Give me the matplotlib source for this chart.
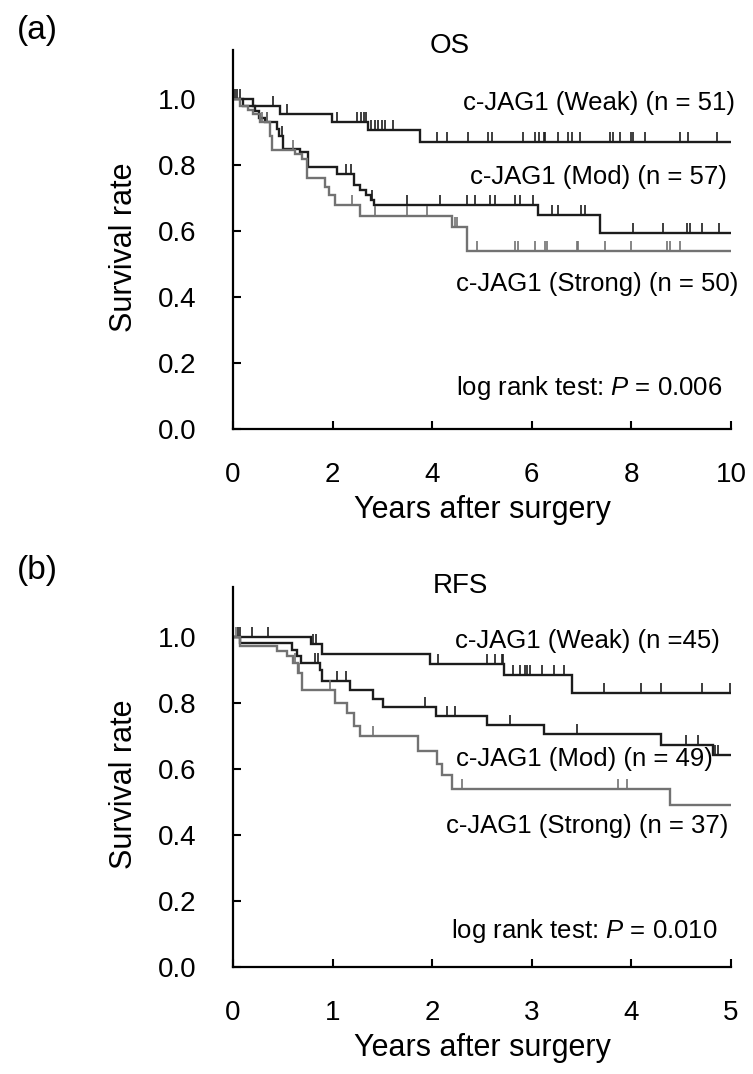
import numpy as np
import matplotlib
matplotlib.use("Agg")
import matplotlib.pyplot as plt

plt.rcParams['font.family'] = ['Liberation Sans', 'DejaVu Sans']
plt.rcParams['mathtext.fontset'] = 'custom'
plt.rcParams['mathtext.it'] = 'Liberation Sans:italic'
plt.rcParams['mathtext.rm'] = 'Liberation Sans'

# ---------------- OS data ----------------
os_weak_t = [0, 0.40, 0.95, 1.98, 2.72, 3.75]
os_weak_s = [1.0, 0.980, 0.957, 0.932, 0.906, 0.871]
os_weak_c = [0.04, 0.09, 0.14, 0.81, 1.08, 2.08, 2.50, 2.57, 2.63, 2.68, 2.78, 2.85,
             2.92, 2.99, 3.05, 3.22, 4.09, 4.29, 4.72, 5.13, 5.20, 5.83, 6.07, 6.14,
             6.24, 6.27, 6.53, 6.73, 6.80, 6.97, 7.57, 7.64, 7.77, 8.00, 8.04, 8.28,
             8.98, 9.14, 9.71]

os_mod_t = [0, 0.20, 0.45, 0.52, 0.65, 0.88, 0.93, 1.01, 1.35, 1.50, 2.08, 2.42,
            2.55, 2.68, 2.78, 2.83, 6.13, 7.37]
os_mod_s = [1.0, 0.980, 0.965, 0.945, 0.930, 0.910, 0.890, 0.850, 0.840, 0.795,
            0.775, 0.739, 0.724, 0.709, 0.694, 0.679, 0.648, 0.594]
os_mod_c = [0.68, 0.98, 2.27, 2.36, 2.80, 3.49, 4.16, 4.69, 4.86, 5.16, 5.26, 5.66,
            5.76, 6.03, 6.40, 6.53, 6.99, 7.06, 8.03, 8.64, 9.11, 9.18, 9.41, 9.75]

os_str_t = [0, 0.15, 0.30, 0.40, 0.55, 0.74, 0.78, 1.25, 1.38, 1.48, 1.85, 1.92,
            2.05, 2.55, 4.39, 4.69]
os_str_s = [1.0, 0.980, 0.967, 0.955, 0.930, 0.890, 0.845, 0.835, 0.820, 0.760,
            0.734, 0.709, 0.680, 0.645, 0.613, 0.540]
os_str_c = [0.58, 0.68, 1.20, 2.38, 2.85, 3.49, 3.89, 4.46, 4.50, 4.89, 5.66, 5.72,
            6.07, 6.27, 6.30, 6.90, 6.93, 7.47, 8.00, 8.71, 8.78, 8.98]

# ---------------- RFS data ----------------
rfs_weak_t = [0, 0.78, 0.89, 1.98, 2.72, 3.40]
rfs_weak_s = [1.0, 0.978, 0.947, 0.918, 0.883, 0.830]
rfs_weak_c = [0.05, 0.07, 0.19, 0.35, 0.80, 0.83, 2.06, 2.55, 2.63, 2.70, 2.71,
              2.81, 2.88, 2.93, 2.95, 2.98, 3.10, 3.22, 3.32, 3.72, 4.10, 4.30,
              4.71, 4.99]

rfs_mod_t = [0, 0.07, 0.59, 0.64, 0.68, 0.87, 0.89, 1.17, 1.41, 1.51, 2.04, 2.55,
             3.12, 4.30, 4.82]
rfs_mod_s = [1.0, 0.980, 0.960, 0.940, 0.920, 0.900, 0.866, 0.837, 0.812, 0.787,
             0.761, 0.731, 0.706, 0.671, 0.641]
rfs_mod_c = [0.82, 0.85, 1.04, 1.13, 1.93, 2.15, 2.23, 2.78, 3.45, 4.55, 4.67,
             4.84, 4.87]

rfs_str_t = [0, 0.07, 0.44, 0.54, 0.60, 0.65, 0.69, 1.02, 1.14, 1.22, 1.28, 1.86,
             2.05, 2.10, 2.20, 4.39]
rfs_str_s = [1.0, 0.973, 0.955, 0.940, 0.920, 0.890, 0.837, 0.800, 0.770, 0.730,
             0.700, 0.655, 0.615, 0.580, 0.540, 0.489]
rfs_str_c = [0.03, 0.62, 0.66, 0.97, 1.41, 2.30, 3.87, 3.96]

os_labels = ["c-JAG1 (Weak) (n = 51)", "c-JAG1 (Mod) (n = 57)", "c-JAG1 (Strong) (n = 50)"]
rfs_labels = ["c-JAG1 (Weak) (n =45)", "c-JAG1 (Mod) (n = 49)", "c-JAG1 (Strong) (n = 37)"]
os_p = "log rank test: $P$ = 0.006"
rfs_p = "log rank test: $P$ = 0.010"

DARK = '#1c1c1c'
GRAY = '#727272'

fig = plt.figure(figsize=(7.53, 10.74), dpi=100)


def km(ax, t, s, c, tend, color):
    tt = list(t) + [tend]
    ss = list(s) + [s[-1]]
    ax.step(tt, ss, where='post', color=color, lw=1.7, solid_joinstyle='miter')
    c = np.asarray(c)
    idx = np.searchsorted(np.asarray(t), c, side='right') - 1
    cy = np.asarray(s)[idx]
    ax.plot(c, cy, linestyle='none', marker=2, markersize=7, mew=1.2, color=color)


def style(ax, xmax, xticks):
    ax.set_xlim(0, xmax)
    ax.set_ylim(0, 1.15)
    ax.spines['top'].set_visible(False)
    ax.spines['right'].set_visible(False)
    ax.spines['left'].set_linewidth(1.6)
    ax.spines['bottom'].set_linewidth(1.6)
    ax.set_yticks([0, 0.2, 0.4, 0.6, 0.8, 1.0])
    ax.set_yticklabels(['0.0', '0.2', '0.4', '0.6', '0.8', '1.0'])
    ax.set_xticks(xticks)
    ax.tick_params(axis='both', direction='in', length=6, width=1.5, labelsize=20)
    ax.tick_params(axis='x', pad=24)
    ax.tick_params(axis='y', pad=26)
    ax.set_xlabel('Years after surgery', fontsize=22, labelpad=5)
    ax.set_ylabel('Survival rate', fontsize=22)
    ax.yaxis.set_label_coords(-0.189, 0.48)


# ---- (a) OS ----
ax1 = fig.add_axes([0.3094, 0.6006, 0.6614, 0.3529])
km(ax1, os_weak_t, os_weak_s, os_weak_c, 10.0, DARK)
km(ax1, os_mod_t, os_mod_s, os_mod_c, 10.0, DARK)
km(ax1, os_str_t, os_str_s, os_str_c, 10.0, GRAY)
style(ax1, 10, [0, 2, 4, 6, 8, 10])
ax1.text(10.08, 0.99, os_labels[0], ha='right', va='center', fontsize=18.5)
ax1.text(9.92, 0.764, os_labels[1], ha='right', va='center', fontsize=18.5)
ax1.text(10.14, 0.44, os_labels[2], ha='right', va='center', fontsize=18.5)
ax1.text(9.82, 0.125, os_p, ha='right', va='center', fontsize=18.5)
fig.text(450 / 753, 1 - 46 / 1074, 'OS', ha='center', va='center', fontsize=20)
fig.text(37 / 753, 1 - 31 / 1074, '(a)', ha='center', va='center', fontsize=24)

# ---- (b) RFS ----
ax2 = fig.add_axes([0.3094, 0.0996, 0.6614, 0.3538])
km(ax2, rfs_weak_t, rfs_weak_s, rfs_weak_c, 5.0, DARK)
km(ax2, rfs_mod_t, rfs_mod_s, rfs_mod_c, 5.0, DARK)
km(ax2, rfs_str_t, rfs_str_s, rfs_str_c, 5.0, GRAY)
style(ax2, 5, [0, 1, 2, 3, 4, 5])
ax2.text(4.89, 0.988, rfs_labels[0], ha='right', va='center', fontsize=18.5)
ax2.text(4.82, 0.63, rfs_labels[1], ha='right', va='center', fontsize=18.5)
ax2.text(4.97, 0.427, rfs_labels[2], ha='right', va='center', fontsize=18.5)
ax2.text(4.87, 0.11, rfs_p, ha='right', va='center', fontsize=18.5)
fig.text(460 / 753, 1 - 586 / 1074, 'RFS', ha='center', va='center', fontsize=20)
fig.text(37 / 753, 1 - 570 / 1074, '(b)', ha='center', va='center', fontsize=24)

fig.savefig('out.png', dpi=100)
